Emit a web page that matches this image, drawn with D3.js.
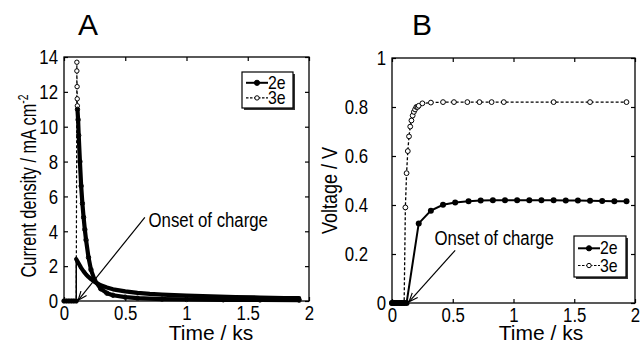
<!DOCTYPE html>
<html>
<head>
<meta charset="utf-8">
<script src="https://cdn.jsdelivr.net/npm/d3@7"></script>
<style>
  body { margin: 0; background: #fff; }
  svg { display: block; font-family: "Liberation Sans", Arial, sans-serif; }
</style>
</head>
<body>
<svg id="chart" width="642" height="345"></svg>
<script>
// ---- Panel A: current density vs time ----
const timeA2e = [0, 0.02, 0.04, 0.06, 0.08, 0.1, 0.1, 0.12, 0.14, 0.16, 0.18, 0.2, 0.22, 0.25, 0.3, 0.35, 0.4, 0.5, 0.6, 0.7, 0.8, 1.0, 1.2, 1.4, 1.6, 1.8, 1.92];
const currentA2e = [0, 0, 0, 0, 0, 0, 2.4, 2.15, 1.9, 1.7, 1.52, 1.38, 1.26, 1.1, 0.9, 0.77, 0.67, 0.55, 0.47, 0.41, 0.37, 0.31, 0.27, 0.23, 0.2, 0.17, 0.16];
const timeA3e = [0, 0.02, 0.04, 0.06, 0.08, 0.1, 0.105, 0.105, 0.107, 0.108, 0.109, 0.11, 0.115, 0.12, 0.13, 0.14, 0.15, 0.16, 0.17, 0.18, 0.2, 0.22, 0.25, 0.3, 0.35, 0.4, 0.5, 0.6, 0.8, 1.0, 1.3, 1.6, 1.92];
const currentA3e = [0, 0, 0, 0, 0, 0, 13.7, 13.2, 12.3, 11.6, 11.2, 11.0, 10.4, 9.5, 8.0, 6.6, 5.6, 4.8, 4.1, 3.5, 2.5, 1.8, 1.2, 0.7, 0.45, 0.33, 0.22, 0.16, 0.11, 0.09, 0.07, 0.06, 0.05];
const xTicksA = [0, 0.5, 1, 1.5, 2];
const yTicksA = [0, 2, 4, 6, 8, 10, 12, 14];

// ---- Panel B: voltage vs time ----
const timeB2e = [0, 0.02, 0.04, 0.06, 0.08, 0.1, 0.12, 0.22, 0.32, 0.42, 0.52, 0.63, 0.73, 0.83, 0.93, 1.03, 1.13, 1.23, 1.33, 1.43, 1.53, 1.63, 1.73, 1.83, 1.93];
const voltB2e = [0, 0, 0, 0, 0, 0, 0, 0.325, 0.377, 0.401, 0.41, 0.415, 0.418, 0.419, 0.419, 0.419, 0.419, 0.419, 0.419, 0.418, 0.418, 0.417, 0.416, 0.415, 0.415];
const timeB3e = [0, 0.02, 0.04, 0.06, 0.08, 0.1, 0.11, 0.12, 0.13, 0.14, 0.15, 0.16, 0.17, 0.18, 0.19, 0.2, 0.21, 0.22, 0.25, 0.32, 0.42, 0.51, 0.62, 0.72, 0.82, 0.92, 1.33, 1.63, 1.93];
const voltB3e = [0, 0, 0, 0, 0, 0, 0.39, 0.53, 0.62, 0.68, 0.72, 0.745, 0.765, 0.78, 0.79, 0.8, 0.8, 0.805, 0.815, 0.818, 0.82, 0.82, 0.82, 0.82, 0.82, 0.82, 0.82, 0.82, 0.82];
const xTicksB = [0, 0.5, 1, 1.5, 2];
const yTicksB = [0, 0.2, 0.4, 0.6, 0.8, 1];

const seriesNames = ["2e", "3e"];

const svg = d3.select("#chart");
const FONT = 21;     // glyph height
const SQUEEZE = 0.8; // the figure's lettering is narrow

function zip(xs, ys) { return xs.map((x, i) => ({ x, y: ys[i] })); }

// narrow a text horizontally around its own anchor point
function squeeze(sel, sx = SQUEEZE) {
  sel.each(function () {
    const t = d3.select(this);
    const x = +t.attr("x") || 0;
    const prev = t.attr("transform") || "";
    t.attr("transform", `${prev} translate(${x},0) scale(${sx},1) translate(${-x},0)`);
  });
}

function frame(g, x, y, xTicks, yTicks) {
  const [x0, x1] = x.range();
  const [y0, y1] = y.range();
  g.append("g").attr("class", "xax").attr("transform", `translate(0,${y0})`)
    .call(d3.axisBottom(x).tickValues(xTicks).tickSize(-4).tickPadding(4).tickFormat(d3.format("")))
    .call(s => s.select(".domain").remove());
  g.append("g").attr("transform", `translate(0,${y1})`)
    .call(d3.axisTop(x).tickValues(xTicks).tickSize(-4).tickFormat(""))
    .call(s => s.select(".domain").remove());
  g.append("g").attr("class", "yax").attr("transform", `translate(${x0},0)`)
    .call(d3.axisLeft(y).tickValues(yTicks).tickSize(-4).tickPadding(6).tickFormat(d3.format("")))
    .call(s => s.select(".domain").remove());
  g.append("g").attr("transform", `translate(${x1},0)`)
    .call(d3.axisRight(y).tickValues(yTicks).tickSize(-4).tickFormat(""))
    .call(s => s.select(".domain").remove());
  g.selectAll(".tick line").attr("stroke", "#000").attr("stroke-width", 1.2);
  g.selectAll(".tick text").attr("font-size", FONT).attr("font-family", "Liberation Sans, Arial, sans-serif")
    .attr("fill", "#000").call(squeeze);
  g.append("rect")
    .attr("x", x0).attr("y", y1).attr("width", x1 - x0).attr("height", y0 - y1)
    .attr("fill", "none").attr("stroke", "#000").attr("stroke-width", 1.3);
}

function legend(g, lx, ly, w, h) {
  g.append("rect").attr("x", lx + 2).attr("y", ly + 2).attr("width", w).attr("height", h).attr("fill", "#333");
  g.append("rect").attr("x", lx).attr("y", ly).attr("width", w).attr("height", h)
    .attr("fill", "#fff").attr("stroke", "#000").attr("stroke-width", 1.2);
  seriesNames.forEach((name, i) => {
    const yy = ly + h * (0.3 + 0.42 * i);
    g.append("line").attr("x1", lx + 4).attr("x2", lx + 26).attr("y1", yy).attr("y2", yy)
      .attr("stroke", "#000").attr("stroke-width", i === 0 ? 2 : 1.2)
      .attr("stroke-dasharray", i === 0 ? null : "2.5,1.5");
    g.append("circle").attr("cx", lx + 15).attr("cy", yy).attr("r", i === 0 ? 2.6 : 2.2)
      .attr("fill", i === 0 ? "#000" : "#fff").attr("stroke", "#000").attr("stroke-width", 1);
    g.append("text").attr("x", lx + 26).attr("y", yy + 6).attr("font-size", 18).text(name).call(squeeze, 0.88);
  });
}

function onset(g, x, y, from, to, label) {
  g.append("line")
    .attr("x1", x(from[0])).attr("y1", y(from[1]))
    .attr("x2", x(to[0])).attr("y2", y(to[1]))
    .attr("stroke", "#000").attr("stroke-width", 1.2).attr("marker-end", "url(#arrow)");
  g.append("text").attr("x", x(label[0])).attr("y", y(label[1])).attr("font-size", FONT)
    .text("Onset of charge").call(squeeze);
}

svg.append("defs").append("marker")
  .attr("id", "arrow").attr("viewBox", "0 0 10 10").attr("refX", 9).attr("refY", 5)
  .attr("markerWidth", 9).attr("markerHeight", 9).attr("markerUnits", "userSpaceOnUse").attr("orient", "auto")
  .append("path").attr("d", "M0,1 L10,5 L0,9").attr("fill", "none").attr("stroke", "#000").attr("stroke-width", 1.3);

// ---------- Panel A ----------
const gA = svg.append("g");
const xA = d3.scaleLinear().domain([0, 2]).range([64, 309]);
const yA = d3.scaleLinear().domain([0, 14]).range([301, 57]);
frame(gA, xA, yA, xTicksA, yTicksA);

const lineA = d3.line().x(d => xA(d.x)).y(d => yA(d.y));
const a2e = zip(timeA2e, currentA2e);
const a3e = zip(timeA3e, currentA3e);

// thin vertical jumps at the onset
gA.append("path").attr("d", lineA(a3e)).attr("fill", "none").attr("stroke", "#000")
  .attr("stroke-width", 1.2).attr("stroke-dasharray", "3,2");
gA.append("path").attr("d", lineA(a2e)).attr("fill", "none").attr("stroke", "#000").attr("stroke-width", 1.5);
gA.selectAll("circle.m3").data(a3e).join("circle").attr("class", "m3")
  .attr("cx", d => xA(d.x)).attr("cy", d => yA(d.y)).attr("r", 2.2)
  .attr("fill", "#fff").attr("stroke", "#000").attr("stroke-width", 1);
// densely sampled parts read as thick bands
[a3e.slice(0, 6), a3e.filter(d => d.x >= 0.11), a2e.slice(6), a2e.slice(0, 6)].forEach(pts => {
  gA.append("path").attr("d", lineA(pts)).attr("fill", "none").attr("stroke", "#000")
    .attr("stroke-width", 4.2).attr("stroke-linejoin", "round").attr("stroke-linecap", "round");
});

gA.append("text").attr("x", 78).attr("y", 35).attr("font-size", 30).text("A");
gA.append("text").attr("x", 211).attr("y", 340).attr("text-anchor", "middle").attr("font-size", 21)
  .text("Time / ks");
const yLabA = gA.append("text").attr("transform", `translate(36,${(yA(0) + yA(14)) / 2 + 7}) rotate(-90)`)
  .attr("text-anchor", "middle").attr("font-size", 22);
yLabA.append("tspan").text("Current density / mA cm");
yLabA.append("tspan").attr("dy", -8).attr("font-size", 14).text("-2");
yLabA.call(squeeze, 0.74);
legend(gA, 242, 72, 51, 36);
onset(gA, xA, yA, [0.66, 4.8], [0.12, 0.08], [0.69, 4.25]);

// ---------- Panel B ----------
const gB = svg.append("g");
const xB = d3.scaleLinear().domain([0, 2]).range([392, 635]);
const yB = d3.scaleLinear().domain([0, 1]).range([303, 58]);
frame(gB, xB, yB, xTicksB, yTicksB);
// decimal y labels sit further out than the integer ones
gB.selectAll(".yax .tick text").filter(d => !Number.isInteger(d))
  .attr("x", -24).attr("transform", null).call(squeeze);

const lineB = d3.line().x(d => xB(d.x)).y(d => yB(d.y));
const b2e = zip(timeB2e, voltB2e);
const b3e = zip(timeB3e, voltB3e);

gB.append("path").attr("d", lineB(b3e)).attr("fill", "none").attr("stroke", "#000")
  .attr("stroke-width", 1.3).attr("stroke-dasharray", "3,2");
gB.selectAll("circle.m3").data(b3e).join("circle").attr("class", "m3")
  .attr("cx", d => xB(d.x)).attr("cy", d => yB(d.y)).attr("r", 2.4)
  .attr("fill", "#fff").attr("stroke", "#000").attr("stroke-width", 1);
gB.append("path").attr("d", lineB(b2e)).attr("fill", "none").attr("stroke", "#000").attr("stroke-width", 2);
gB.selectAll("circle.m2").data(b2e).join("circle").attr("class", "m2")
  .attr("cx", d => xB(d.x)).attr("cy", d => yB(d.y)).attr("r", 3)
  .attr("fill", "#000");

gB.append("text").attr("x", 412).attr("y", 35).attr("font-size", 30).text("B");
gB.append("text").attr("x", 541).attr("y", 340).attr("text-anchor", "middle").attr("font-size", 21)
  .text("Time / ks");
gB.append("text").attr("transform", `translate(337,${(yB(0) + yB(1)) / 2 + 10}) rotate(-90)`)
  .attr("text-anchor", "middle").attr("font-size", 22).text("Voltage / V").call(squeeze, 0.82);
legend(gB, 574, 236, 52, 41);
onset(gB, xB, yB, [0.52, 0.215], [0.145, 0.008], [0.35, 0.237]);
</script>
</body>
</html>
